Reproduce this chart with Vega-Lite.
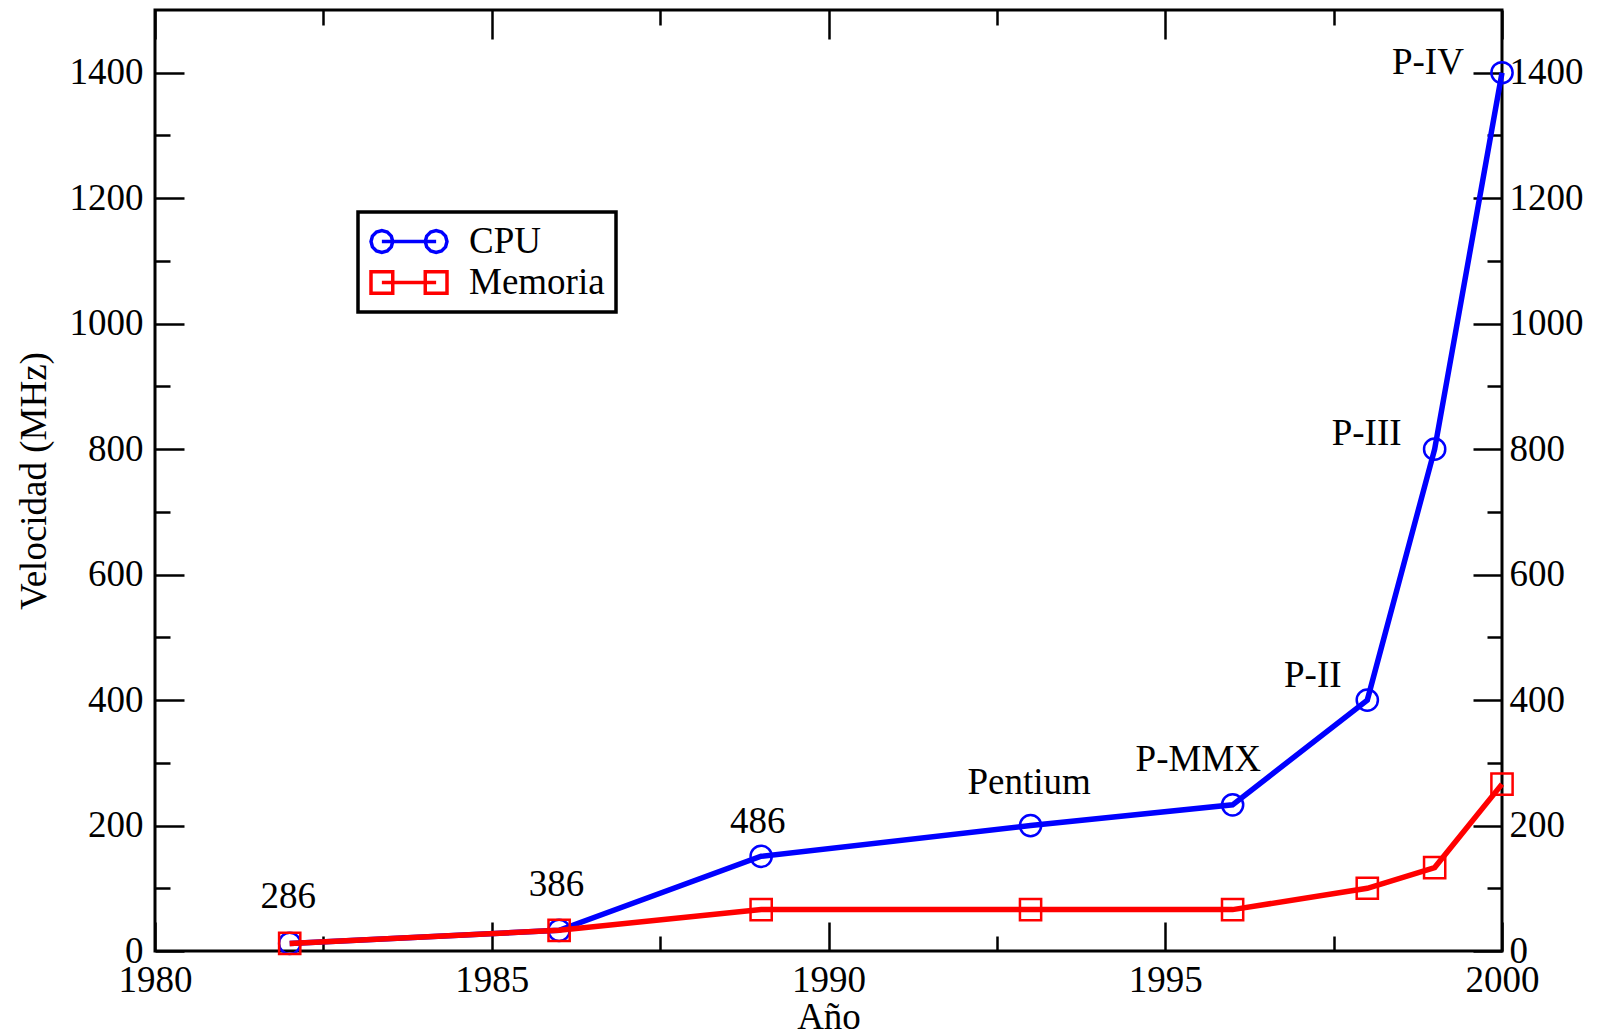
{
  "$schema": "https://vega.github.io/schema/vega-lite/v6.json",
  "width": 1347,
  "height": 941,
  "autosize": {"type": "none"},
  "padding": {"left": 155, "top": 10, "right": 100, "bottom": 85},
  "background": "white",
  "config": {
    "view": {"stroke": "black", "strokeWidth": 3},
    "font": "Liberation Serif",
    "axis": {
      "grid": false,
      "domain": false,
      "tickColor": "black",
      "tickWidth": 2.5,
      "labelFont": "Liberation Serif",
      "labelFontSize": 37,
      "labelColor": "black",
      "titleFont": "Liberation Serif",
      "titleFontSize": 37,
      "titleFontWeight": "normal",
      "titleColor": "black",
      "labelOverlap": false,
      "labelFlush": false
    },
    "legend": {
      "symbolSize": 5776, "symbolStrokeWidth": 3.5, "symbolOpacity": 1,
      "labelFont": "Liberation Serif", "labelFontSize": 37, "labelColor": "black",
      "labelOffset": 20, "rowPadding": 3, "padding": 11, "clipHeight": 37,
      "strokeColor": "black", "fillColor": "white", "strokeWidth": 3.5
    }
  },
  "data": {
    "values": [
      {"year": 1982, "value": 12, "serie": "CPU", "label": "286", "lx": 1981.98, "ly": 86},
      {"year": 1986, "value": 33, "serie": "CPU", "label": "386", "lx": 1985.96, "ly": 105},
      {"year": 1989, "value": 151, "serie": "CPU", "label": "486", "lx": 1988.95, "ly": 205},
      {"year": 1993, "value": 200, "serie": "CPU", "label": "Pentium", "lx": 1992.98, "ly": 268},
      {"year": 1996, "value": 233, "serie": "CPU", "label": "P-MMX", "lx": 1995.49, "ly": 304},
      {"year": 1998, "value": 400, "serie": "CPU", "label": "P-II", "lx": 1997.19, "ly": 438},
      {"year": 1999, "value": 800, "serie": "CPU", "label": "P-III", "lx": 1997.99, "ly": 824},
      {"year": 2000, "value": 1400, "serie": "CPU", "label": "P-IV", "lx": 1998.9, "ly": 1415},
      {"year": 1982, "value": 12, "serie": "Memoria"},
      {"year": 1986, "value": 33, "serie": "Memoria"},
      {"year": 1989, "value": 66, "serie": "Memoria"},
      {"year": 1993, "value": 66, "serie": "Memoria"},
      {"year": 1996, "value": 66, "serie": "Memoria"},
      {"year": 1998, "value": 100, "serie": "Memoria"},
      {"year": 1999, "value": 133, "serie": "Memoria"},
      {"year": 2000, "value": 266, "serie": "Memoria"}
    ]
  },
  "layer": [
    {
      "transform": [{"filter": "datum.serie === 'CPU'"}],
      "mark": {"type": "line", "strokeWidth": 5.5, "color": "#0000ff"},
      "encoding": {
        "x": {
          "field": "year", "type": "quantitative",
          "scale": {"domain": [1980, 2000], "nice": false, "zero": false},
          "axis": {
            "orient": "bottom", "title": "Año",
            "values": [1980, 1982.5, 1985, 1987.5, 1990, 1992.5, 1995, 1997.5, 2000],
            "format": "d",
            "labelExpr": "datum.value % 5 === 0 ? datum.label : ''",
            "tickSize": {"condition": {"test": "datum.value % 5 === 0", "value": -29}, "value": -15},
            "labelPadding": 40,
            "titlePadding": -13
          }
        },
        "y": {
          "field": "value", "type": "quantitative",
          "scale": {"domain": [0, 1500], "nice": false},
          "axis": {
            "orient": "left", "title": "Velocidad (MHz)",
            "values": [0, 100, 200, 300, 400, 500, 600, 700, 800, 900, 1000, 1100, 1200, 1300, 1400],
            "format": "d",
            "labelExpr": "datum.value % 200 === 0 ? datum.label : ''",
            "tickSize": {"condition": {"test": "datum.value % 200 === 0", "value": -29}, "value": -15},
            "labelPadding": 41,
            "titlePadding": 16
          }
        }
      }
    },
    {
      "transform": [{"filter": "datum.serie === 'CPU'"}],
      "mark": {"type": "point", "shape": "circle", "filled": false, "size": 450, "strokeWidth": 2.5, "color": "#0000ff", "opacity": 1},
      "encoding": {
        "x": {"field": "year", "type": "quantitative", "axis": null},
        "y": {"field": "value", "type": "quantitative", "axis": null}
      }
    },
    {
      "transform": [{"filter": "datum.serie === 'Memoria'"}],
      "mark": {"type": "line", "strokeWidth": 5.5, "color": "#ff0000"},
      "encoding": {
        "x": {"field": "year", "type": "quantitative", "axis": null},
        "y": {"field": "value", "type": "quantitative", "axis": null}
      }
    },
    {
      "transform": [{"filter": "datum.serie === 'Memoria'"}],
      "mark": {"type": "point", "shape": "square", "filled": false, "size": 450, "strokeWidth": 2.5, "color": "#ff0000", "opacity": 1},
      "encoding": {
        "x": {"field": "year", "type": "quantitative", "axis": null},
        "y": {"field": "value", "type": "quantitative", "axis": null}
      }
    },
    {
      "transform": [{"filter": "datum.serie === 'CPU'"}],
      "mark": {"type": "text", "font": "Liberation Serif", "fontSize": 37, "align": "center", "baseline": "middle", "color": "black"},
      "encoding": {
        "x": {"field": "lx", "type": "quantitative", "axis": null},
        "y": {"field": "ly", "type": "quantitative", "axis": null},
        "text": {"field": "label", "type": "nominal"}
      }
    },
    {
      "mark": {"type": "point", "filled": false, "strokeWidth": 3, "opacity": 0},
      "encoding": {
        "x": {
          "field": "year", "type": "quantitative",
          "axis": {
            "orient": "top", "title": null, "labels": false,
            "values": [1980, 1982.5, 1985, 1987.5, 1990, 1992.5, 1995, 1997.5, 2000],
            "tickSize": {"condition": {"test": "datum.value % 5 === 0", "value": -29}, "value": -15}
          }
        },
        "y": {
          "field": "value", "type": "quantitative",
          "axis": {
            "orient": "right", "title": null,
            "values": [0, 100, 200, 300, 400, 500, 600, 700, 800, 900, 1000, 1100, 1200, 1300, 1400],
            "format": "d",
            "labelExpr": "datum.value % 200 === 0 ? datum.label : ''",
            "tickSize": {"condition": {"test": "datum.value % 200 === 0", "value": -29}, "value": -15},
            "labelPadding": 36
          }
        },
        "stroke": {
          "field": "serie", "type": "nominal",
          "scale": {"domain": ["CPU", "Memoria"], "range": ["#0000ff", "#ff0000"]},
          "legend": {
            "title": null, "orient": "none", "legendX": 203, "legendY": 202,
            "encode": {"legend": {"update": {"strokeWidth": {"value": 3.5}}}}
          }
        },
        "shape": {
          "field": "serie", "type": "nominal",
          "scale": {
            "domain": ["CPU", "Memoria"],
            "range": [
              "M-0.714,0L0.714,0M-0.428,0L-0.466,0.143L-0.571,0.248L-0.714,0.286L-0.857,0.248L-0.962,0.143L-1,0L-0.962,-0.143L-0.857,-0.248L-0.714,-0.286L-0.571,-0.248L-0.466,-0.143ZM1,0L0.962,0.143L0.857,0.248L0.714,0.286L0.571,0.248L0.466,0.143L0.428,0L0.466,-0.143L0.571,-0.248L0.714,-0.286L0.857,-0.248L0.962,-0.143Z",
              "M-0.714,0L0.714,0M-1,-0.286L-0.428,-0.286L-0.428,0.286L-1,0.286ZM0.428,-0.286L1,-0.286L1,0.286L0.428,0.286Z"
            ]
          },
          "legend": {
            "title": null, "orient": "none", "legendX": 203, "legendY": 202,
            "encode": {"legend": {"update": {"strokeWidth": {"value": 3.5}}}}
          }
        }
      }
    }
  ],
  "resolve": {"axis": {"x": "independent", "y": "independent"}}
}
